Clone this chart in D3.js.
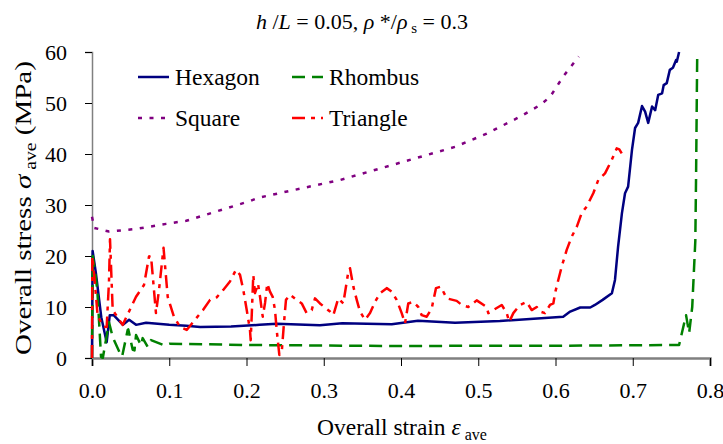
<!DOCTYPE html>
<html>
<head>
<meta charset="utf-8">
<script src="https://cdn.jsdelivr.net/npm/d3@7"></script>
<style>
  body { margin: 0; background: #fff; }
</style>
</head>
<body>
<svg></svg>
<script>
// Data (strain, stress in MPa)
const hexagon = [
  [0, 0], [0.0008, 21], [0.005, 16.7], [0.012, 8], [0.019, 3.1], [0.023, 8.4], [0.028, 8.4],
  [0.04, 6.5], [0.048, 7.5], [0.057, 6.5], [0.07, 6.9], [0.1, 6.5], [0.122, 6.3], [0.14, 6.1],
  [0.18, 6.2], [0.217, 6.5], [0.239, 6.7], [0.295, 6.4], [0.324, 6.8], [0.388, 6.6], [0.422, 7.3],
  [0.47, 6.9], [0.528, 7.25], [0.61, 8.1], [0.619, 9.1], [0.632, 9.9], [0.645, 9.9], [0.651, 10.4],
  [0.661, 11.4], [0.673, 12.7], [0.677, 15.3], [0.681, 21.8], [0.686, 28.4], [0.69, 32.3],
  [0.694, 33.6], [0.699, 40.8], [0.703, 45.1], [0.707, 46.1], [0.712, 49.4], [0.716, 48.3],
  [0.72, 46.1], [0.725, 49.3], [0.729, 48.6], [0.733, 51.6], [0.738, 51.9], [0.74, 53.5],
  [0.744, 53.9], [0.748, 56.5], [0.752, 56.9], [0.756, 58.4], [0.757, 58.1], [0.76, 60]
]
const rhombus = [
  [0, 0], [0.001, 20], [0.004, 17], [0.007, 13], [0.0117, 0.2], [0.014, 0], [0.022, 7],
  [0.0268, 4.1], [0.0375, 0.5], [0.039, 0.3], [0.0462, 5.5], [0.047, 5.6], [0.0527, 1.6],
  [0.055, 1.5], [0.057, 4.5], [0.0634, 2.5], [0.0656, 3.9], [0.0721, 2.2], [0.0764, 3.5],
  [0.0932, 2.5], [0.1, 2.8], [0.15, 2.7], [0.2, 2.55], [0.3, 2.45], [0.4, 2.35], [0.5, 2.4],
  [0.6, 2.4], [0.7, 2.5], [0.76, 2.55], [0.769, 8.4], [0.773, 4.9], [0.777, 10], [0.781, 23],
  [0.782, 36], [0.783, 52.5], [0.7835, 60]
]
const square = [
  [0, 27.7], [0.003, 25.5], [0.022, 24.8], [0.057, 25.3], [0.096, 26.3], [0.122, 26.9],
  [0.205, 30.8], [0.215, 31.4], [0.26, 32.9], [0.321, 34.9], [0.399, 38.3], [0.47, 41.4],
  [0.511, 44], [0.554, 47.3], [0.58, 49.6], [0.593, 51.2], [0.61, 55.2], [0.63, 59.1]
]
const triangle = [
  [0, 0], [0.0004, 19.9], [0.003, 16], [0.0074, 8.1], [0.0155, 6.1], [0.019, 6.1], [0.022, 15],
  [0.0233, 23.3], [0.0268, 9.4], [0.0397, 6.5], [0.057, 12], [0.0673, 14.3], [0.0738, 19.9],
  [0.0764, 20], [0.0828, 8.8], [0.0867, 13.3], [0.0926, 21.6], [0.098, 12], [0.106, 8.1],
  [0.114, 6.1], [0.1226, 5.5], [0.1333, 7.5], [0.1437, 9.4], [0.1528, 11.4], [0.1614, 11.9],
  [0.1696, 13.3], [0.1786, 15], [0.1864, 17.3], [0.1916, 16.3], [0.1959, 13.3], [0.2003, 9.4],
  [0.2045, 5.5], [0.2054, 3.5], [0.2067, 8.1], [0.2088, 16.3], [0.211, 12.7], [0.2149, 14.6],
  [0.2175, 12], [0.221, 8.1], [0.224, 10.8], [0.2269, 14.6], [0.2304, 13], [0.2339, 12],
  [0.2369, 9.4], [0.2391, 5.5], [0.2425, 0.6], [0.2456, 1.2], [0.2485, 6.8], [0.2511, 11.4],
  [0.2563, 12.4], [0.265, 11.4], [0.2715, 10.7], [0.2779, 8.8], [0.2844, 9.4], [0.2887, 11.7],
  [0.2951, 10.7], [0.3081, 9.1], [0.3124, 8.4], [0.3188, 11.7], [0.3253, 10.7], [0.3318, 16.9],
  [0.334, 17.6], [0.3383, 14], [0.3427, 11.4], [0.3469, 9.1], [0.3534, 7.5], [0.3599, 8.8],
  [0.3663, 11], [0.3728, 12.7], [0.3815, 13.7], [0.388, 13], [0.3944, 11.4], [0.4009, 8.8],
  [0.4052, 6.8], [0.4094, 10.7], [0.4159, 11], [0.4224, 10], [0.4268, 8.4], [0.4333, 8.1],
  [0.4397, 9.7], [0.4453, 13.7], [0.4514, 14], [0.4592, 11.7], [0.4721, 11.2], [0.4786, 10.4],
  [0.4871, 10], [0.498, 11.3], [0.5109, 10], [0.513, 8.8], [0.5195, 9.4], [0.5304, 10.4],
  [0.5368, 8.8], [0.5402, 7.1], [0.5454, 8.8], [0.554, 10.4], [0.5627, 11], [0.5692, 9.4],
  [0.5757, 10], [0.58, 9.1], [0.5864, 8.8], [0.5929, 10.4], [0.5972, 10.7], [0.5994, 12.7],
  [0.6036, 15.3], [0.608, 17.9], [0.6145, 21.2], [0.621, 23.8], [0.6275, 25.7], [0.6339, 28.4],
  [0.6404, 29.7], [0.6489, 32.3], [0.6554, 34.9], [0.6641, 36.2], [0.6727, 38.8], [0.6792, 41.1],
  [0.6826, 40.9], [0.6857, 40.1]
]
const xTicks = [0, 0.1, 0.2, 0.3, 0.4, 0.5, 0.6, 0.7, 0.8]
const yTicks = [0, 10, 20, 30, 40, 50, 60]

const series = [
  { name: 'Hexagon', data: hexagon, color: '#000080', dash: null },
  { name: 'Rhombus', data: rhombus, color: '#008000', dash: '13,7' },
  { name: 'Square', data: square, color: '#800080', dash: '4,7.5' },
  { name: 'Triangle', data: triangle, color: '#ff0000', dash: '13,6,4,6' }
]

const width = 723
const height = 444
const margin = { left: 92, right: 13, top: 52, bottom: 86 }
const serif = '"Liberation Serif"'

const svg = d3.select('svg').attr('width', width).attr('height', height)

const x = d3.scaleLinear().domain([0, 0.8]).range([margin.left, width - margin.right])
const y = d3.scaleLinear().domain([0, 60]).range([height - margin.bottom, margin.top])

svg.append('defs').append('clipPath').attr('id', 'plot')
  .append('rect')
  .attr('x', x(0) - 3).attr('y', y(60) - 1)
  .attr('width', x(0.8) - x(0) + 6).attr('height', y(0) - y(60) + 2)

// Axes
const xAxis = svg.append('g')
  .attr('transform', `translate(0,${y(0)})`)
  .call(d3.axisBottom(x).tickValues(xTicks).tickFormat(d3.format('.1f')).tickSize(8).tickPadding(16))
const yAxis = svg.append('g')
  .attr('transform', `translate(${x(0)},0)`)
  .call(d3.axisLeft(y).tickValues(yTicks).tickSize(7).tickPadding(18))

;[xAxis, yAxis].forEach((g) => {
  g.selectAll('text').style('font-family', serif).style('font-size', '22px').attr('fill', '#000')
  g.selectAll('.tick line').attr('stroke', '#000')
})
xAxis.select('.domain').attr('stroke', '#808080').attr('stroke-width', 2.5)
yAxis.select('.domain').attr('stroke', '#808080').attr('stroke-width', 1.5)

// Lines
const line = d3.line().x((d) => x(d[0])).y((d) => y(d[1]))
const lines = svg.append('g').attr('clip-path', 'url(#plot)')
series.forEach((s) => {
  lines.append('path')
    .datum(s.data)
    .attr('d', line)
    .attr('fill', 'none')
    .attr('stroke', s.color)
    .attr('stroke-width', 2.5)
    .attr('stroke-dasharray', s.dash)
    .attr('stroke-linejoin', 'round')
})

// Legend
const legendPos = [[138, 77], [292, 77], [138, 118], [292, 118]]
series.forEach((s, i) => {
  const [lx, ly] = legendPos[i]
  svg.append('line')
    .attr('x1', lx).attr('x2', lx + 31).attr('y1', ly).attr('y2', ly)
    .attr('stroke', s.color).attr('stroke-width', 2.5)
    .attr('stroke-dasharray', s.dash)
  svg.append('text')
    .attr('x', lx + 37).attr('y', ly + 8)
    .style('font-family', serif).style('font-size', '23.5px')
    .text(s.name)
})

// Title
const title = svg.append('text')
  .attr('x', 362).attr('y', 29)
  .attr('text-anchor', 'middle')
  .style('font-family', serif).style('font-size', '22px')
title.append('tspan').style('font-style', 'italic').text('h')
title.append('tspan').text(' /')
title.append('tspan').style('font-style', 'italic').text('L')
title.append('tspan').text(' = 0.05, ')
title.append('tspan').style('font-style', 'italic').text('ρ')
title.append('tspan').text(' */')
title.append('tspan').style('font-style', 'italic').text('ρ')
title.append('tspan').style('font-size', '15px').attr('dy', 4).text(' s')
title.append('tspan').attr('dy', -4).text(' = 0.3')

// Axis titles
const xTitle = svg.append('text')
  .attr('x', 402).attr('y', 435)
  .attr('text-anchor', 'middle')
  .style('font-family', serif).style('font-size', '23.5px')
xTitle.append('tspan').text('Overall strain ')
xTitle.append('tspan').style('font-style', 'italic').text('ε')
xTitle.append('tspan').style('font-size', '16px').attr('dy', 5).text(' ave')

const yTitle = svg.append('text')
  .attr('text-anchor', 'middle')
  .style('font-family', serif).style('font-size', '23.5px')
yTitle.append('tspan').text('Overall stress ')
yTitle.append('tspan').style('font-style', 'italic').text('σ')
yTitle.append('tspan').style('font-size', '16px').attr('dy', 5).text(' ave')
yTitle.append('tspan').attr('dy', -5).text(' (MPa)')
// the reference stretches this label along its length to fill the axis
const yTitleLen = yTitle.node().getComputedTextLength()
const stretch = Math.max(1, 294 / yTitleLen)
yTitle.attr('transform', `translate(31,208) rotate(-90) scale(${stretch},1)`)
</script>
</body>
</html>
